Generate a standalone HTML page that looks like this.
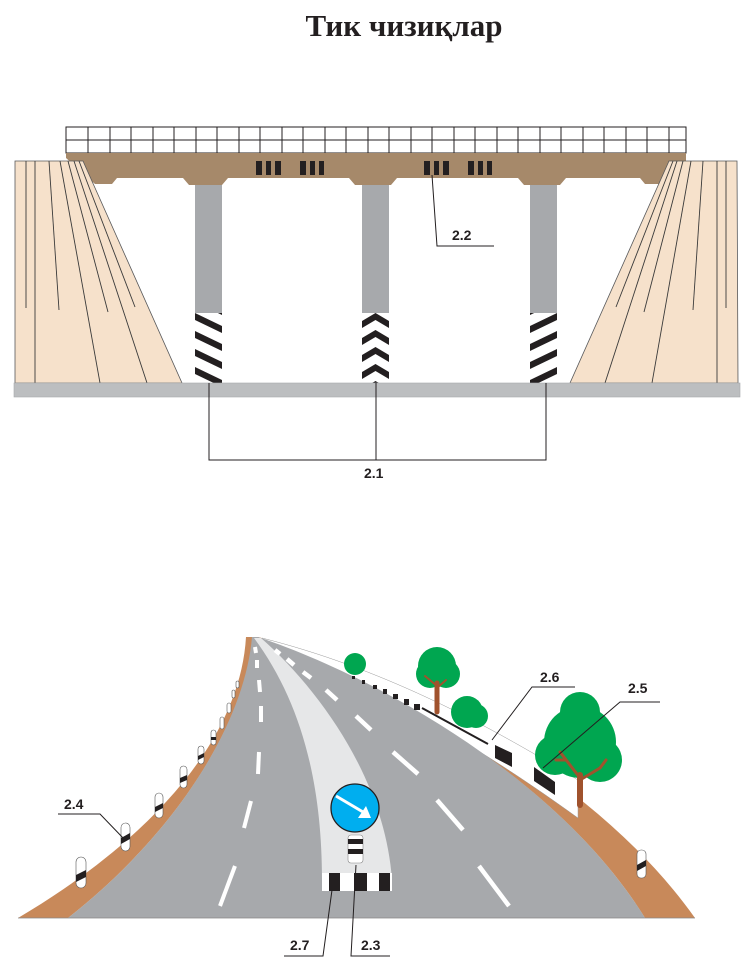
<!DOCTYPE html>
<html><head><meta charset="utf-8"><style>
html,body{margin:0;padding:0;background:#fff;}
svg{display:block;}
</style></head><body>
<svg width="755" height="967" viewBox="0 0 755 967" xmlns="http://www.w3.org/2000/svg">
<defs>
<pattern id="diagL" patternUnits="userSpaceOnUse" width="27" height="18" patternTransform="translate(195,313)">
<rect width="27" height="18" fill="#fff"/>
<polygon points="0,0 0,7 27,20 27,13" fill="#231f20"/>
<polygon points="0,-18 0,-11 27,2 27,-5" fill="#231f20"/>
<polygon points="0,18 0,25 27,38 27,31" fill="#231f20"/>
</pattern>
<pattern id="diagR" patternUnits="userSpaceOnUse" width="27" height="18" patternTransform="translate(530,313)">
<rect width="27" height="18" fill="#fff"/>
<polygon points="27,0 27,7 0,20 0,13" fill="#231f20"/>
<polygon points="27,-18 27,-11 0,2 0,-5" fill="#231f20"/>
<polygon points="27,18 27,25 0,38 0,31" fill="#231f20"/>
</pattern>
<pattern id="chev" patternUnits="userSpaceOnUse" width="27" height="17" patternTransform="translate(362,313)">
<rect width="27" height="17" fill="#fff"/>
<polygon points="0,8 13.5,0 27,8 27,15 13.5,7 0,15" fill="#231f20"/>
</pattern>
</defs>

<text x="404" y="36" text-anchor="middle" font-family="Liberation Serif, serif" font-weight="bold" font-size="31" fill="#231f20">Тик чизиқлар</text>

<!-- deck grid -->
<rect x="66" y="127" width="620" height="26" fill="#fff" stroke="#231f20" stroke-width="1"/>
<line x1="66" y1="140" x2="686" y2="140" stroke="#231f20"/>
<g stroke="#231f20" stroke-width="1">
<line x1="88" y1="127" x2="88" y2="153"/><line x1="110" y1="127" x2="110" y2="153"/><line x1="131" y1="127" x2="131" y2="153"/><line x1="153" y1="127" x2="153" y2="153"/><line x1="174" y1="127" x2="174" y2="153"/><line x1="196" y1="127" x2="196" y2="153"/><line x1="217" y1="127" x2="217" y2="153"/><line x1="239" y1="127" x2="239" y2="153"/><line x1="260" y1="127" x2="260" y2="153"/><line x1="282" y1="127" x2="282" y2="153"/><line x1="303" y1="127" x2="303" y2="153"/><line x1="325" y1="127" x2="325" y2="153"/><line x1="346" y1="127" x2="346" y2="153"/><line x1="368" y1="127" x2="368" y2="153"/><line x1="389" y1="127" x2="389" y2="153"/><line x1="411" y1="127" x2="411" y2="153"/><line x1="432" y1="127" x2="432" y2="153"/><line x1="454" y1="127" x2="454" y2="153"/><line x1="475" y1="127" x2="475" y2="153"/><line x1="497" y1="127" x2="497" y2="153"/><line x1="518" y1="127" x2="518" y2="153"/><line x1="540" y1="127" x2="540" y2="153"/><line x1="561" y1="127" x2="561" y2="153"/><line x1="583" y1="127" x2="583" y2="153"/><line x1="604" y1="127" x2="604" y2="153"/><line x1="626" y1="127" x2="626" y2="153"/><line x1="647" y1="127" x2="647" y2="153"/><line x1="669" y1="127" x2="669" y2="153"/>
</g>

<!-- beam -->
<polygon fill="#a6896a" points="66,153 686,153 686,161 670,184 645,184 640,178 566,178 560,185 524,185 518,178 397,178 391,185 355,185 349,178 228,178 222,185 189,185 183,178 117,178 112,184 95,184 66,158"/>

<!-- stripe blocks -->
<g fill="#231f20">
<rect x="256" y="161" width="6" height="14"/><rect x="266" y="161" width="5" height="14"/><rect x="275" y="161" width="6" height="14"/>
<rect x="300" y="161" width="6" height="14"/><rect x="310" y="161" width="5" height="14"/><rect x="319" y="161" width="5" height="14"/>
<rect x="424" y="161" width="6" height="14"/><rect x="434" y="161" width="5" height="14"/><rect x="443" y="161" width="6" height="14"/>
<rect x="468" y="161" width="6" height="14"/><rect x="478" y="161" width="5" height="14"/><rect x="487" y="161" width="5" height="14"/>
</g>

<!-- abutments -->
<polygon points="15,161 83,161 182,383 15,383" fill="#f6e1cb" stroke="#58595b" stroke-width="0.8"/>
<g stroke="#3a3a3a" stroke-width="0.9">
<line x1="26" y1="161" x2="26" y2="308"/><line x1="35" y1="161" x2="35" y2="383"/><line x1="49" y1="161" x2="59" y2="310"/>
<line x1="60" y1="161" x2="100" y2="383"/><line x1="68" y1="161" x2="108" y2="312"/><line x1="74" y1="161" x2="147" y2="383"/><line x1="79" y1="161" x2="135" y2="307"/>
</g>
<polygon points="669,161 737,161 738,383 570,383" fill="#f6e1cb" stroke="#58595b" stroke-width="0.8"/>
<g stroke="#3a3a3a" stroke-width="0.9">
<line x1="726" y1="161" x2="726" y2="308"/><line x1="717" y1="161" x2="717" y2="383"/><line x1="703" y1="161" x2="693" y2="310"/>
<line x1="691" y1="161" x2="652" y2="383"/><line x1="683" y1="161" x2="644" y2="312"/><line x1="677" y1="161" x2="605" y2="383"/><line x1="673" y1="161" x2="616" y2="307"/>
</g>

<!-- piers -->
<rect x="195" y="185" width="27" height="128" fill="#a7a9ac"/>
<rect x="362" y="185" width="27" height="128" fill="#a7a9ac"/>
<rect x="530" y="185" width="27" height="128" fill="#a7a9ac"/>
<rect x="195" y="313" width="27" height="70" fill="url(#diagL)"/>
<rect x="362" y="313" width="27" height="70" fill="url(#chev)"/>
<rect x="530" y="313" width="27" height="70" fill="url(#diagR)"/>

<!-- ground -->
<rect x="14" y="383" width="726" height="14" fill="#bcbec0" stroke="#a7a9ac" stroke-width="0.6"/>

<!-- leaders top -->
<g stroke="#231f20" stroke-width="1" fill="none">
<polyline points="209,383 209,460 546,460 546,383"/>
<line x1="376" y1="383" x2="376" y2="460"/>
<polyline points="432,175 437,246 494,246"/>
</g>
<g font-family="Liberation Sans, sans-serif" font-weight="bold" font-size="14" fill="#231f20">
<text x="364" y="478">2.1</text>
<text x="452" y="240">2.2</text>
</g>

<!-- ROAD -->
<!-- right brown -->
<path d="M258,637 C390,672 590,770 695,918 L645,918 C560,780 380,678 256,641 Z" fill="#c8895a"/>
<!-- white guard band -->
<path d="M262,638 C380,668 480,720 578,780 L578,818 C470,740 380,690 262,643 Z" fill="#fff" stroke="#999" stroke-width="0.5"/>
<!-- left brown -->
<path d="M246,637 C240,740 150,840 18,918 L68,918 C180,830 245,720 253,637 Z" fill="#c8895a"/>
<!-- road -->
<path d="M252,637 L258,637 C380,678 560,780 645,918 L68,918 C180,830 245,720 252,637 Z" fill="#a7a9ac"/>
<line x1="18" y1="918" x2="695" y2="918" stroke="#888" stroke-width="0.8"/>
<!-- island -->
<path d="M254,638 C300,700 322,780 322,880 L392,880 C385,780 320,690 261,638 Z" fill="#e6e7e8"/>
<rect x="322" y="873" width="70" height="18" fill="#fff"/>
<g fill="#231f20"><rect x="329" y="873" width="11" height="18"/><rect x="354" y="873" width="13" height="18"/><rect x="379" y="873" width="11" height="18"/></g>

<!-- dashes left lane -->
<g stroke="#fff" stroke-width="4" stroke-linecap="butt">
<line x1="255" y1="647" x2="256" y2="653"/><line x1="257" y1="660" x2="257" y2="668"/><line x1="259" y1="680" x2="260" y2="692"/><line x1="261" y1="706" x2="261" y2="722"/><line x1="259" y1="752" x2="258" y2="774"/><line x1="251" y1="801" x2="244" y2="828"/><line x1="235" y1="866" x2="220" y2="906"/>
</g>
<g stroke="#fff" stroke-width="4.5">
<line x1="275" y1="650" x2="280" y2="654"/><line x1="287" y1="659" x2="294" y2="665"/><line x1="303" y1="672" x2="311" y2="678"/><line x1="326" y1="690" x2="337" y2="700"/><line x1="356" y1="716" x2="371" y2="730"/><line x1="393" y1="752" x2="418" y2="774"/><line x1="437" y1="800" x2="463" y2="830"/><line x1="479" y1="866" x2="509" y2="906"/>
</g>

<!-- guard rail blocks -->
<g fill="#231f20">
<rect x="352" y="676" width="3" height="3"/><rect x="362" y="680" width="3" height="4"/><rect x="373" y="685" width="4" height="4"/><rect x="383" y="689" width="4" height="5"/><rect x="393" y="694" width="5" height="5"/><rect x="404" y="699" width="5" height="6"/><rect x="414" y="704" width="6" height="6"/>
<polygon points="495,745 512,753 512,767 495,758"/>
<polygon points="534,767 555,782 555,795 534,781"/>
</g>
<line x1="422" y1="708" x2="488" y2="744" stroke="#231f20" stroke-width="2"/>

<!-- trees -->
<g fill="#00a650">
<circle cx="355" cy="664" r="11"/>
<circle cx="437" cy="666" r="19"/><circle cx="430" cy="674" r="14"/><circle cx="446" cy="674" r="14"/>
<circle cx="467" cy="712" r="16"/><circle cx="476" cy="716" r="12"/>
<circle cx="580" cy="742" r="36"/><circle cx="555" cy="755" r="20"/><circle cx="600" cy="760" r="22"/><circle cx="580" cy="712" r="20"/>
</g>
<g stroke="#a0522d" fill="none" stroke-linecap="round">
<line x1="437" y1="683" x2="437" y2="712" stroke-width="5"/><path d="M437,686 L425,676 M437,688 L446,680" stroke-width="2"/>
<line x1="580" y1="775" x2="580" y2="805" stroke-width="6"/>
<path d="M580,778 L560,752 M580,780 L600,768 M565,760 L556,760 M600,768 L606,760" stroke-width="3"/>
</g>

<!-- right post -->
<rect x="637" y="850" width="9" height="28" rx="4" fill="#fff" stroke="#555" stroke-width="0.6"/>
<polygon points="637,865 646,860 646,866 637,871" fill="#231f20"/>

<!-- left posts -->
<g fill="#fff" stroke="#555" stroke-width="0.6">
<rect x="76" y="857" width="10" height="31" rx="5"/>
<rect x="121" y="823" width="9" height="28" rx="4.5"/>
<rect x="155" y="793" width="8" height="25" rx="4"/>
<rect x="180" y="766" width="7" height="22" rx="3.5"/>
<rect x="198" y="746" width="6" height="18" rx="3"/>
<rect x="211" y="730" width="5" height="15" rx="2.5"/>
<rect x="220" y="717" width="4" height="12" rx="2"/>
<rect x="227" y="703" width="4" height="10" rx="2"/>
<rect x="232" y="690" width="3" height="8" rx="1.5"/>
<rect x="236" y="681" width="3" height="7" rx="1.5"/>
</g>
<g fill="#231f20">
<polygon points="76,875 86,870 86,877 76,882"/>
<polygon points="121,838 130,833 130,839 121,844"/>
<polygon points="155,807 163,803 163,808 155,812"/>
<polygon points="180,778 187,775 187,780 180,783"/>
<polygon points="198,756 204,753 204,757 198,760"/>
<rect x="211" y="737" width="5" height="3"/>
</g>

<!-- sign -->
<rect x="348" y="835" width="15" height="28" rx="3" fill="#fff" stroke="#888" stroke-width="0.6"/>
<rect x="348" y="839" width="15" height="5" fill="#231f20"/>
<rect x="348" y="849" width="15" height="5" fill="#231f20"/>
<circle cx="355" cy="808" r="24" fill="#00aeef" stroke="#231f20" stroke-width="1.3"/>
<line x1="336" y1="796" x2="363" y2="812" stroke="#fff" stroke-width="3"/>
<polygon points="371,818 358,818 366,806" fill="#fff"/>

<!-- leaders bottom -->
<g stroke="#231f20" stroke-width="1" fill="none">
<polyline points="58,814 100,814 125,840"/>
<polyline points="332,890 323,956 284,956"/>
<polyline points="356,865 351,956 390,956"/>
<polyline points="492,740 532,687 575,687"/>
<polyline points="543,768 620,702 660,702"/>
</g>
<g font-family="Liberation Sans, sans-serif" font-weight="bold" font-size="14" fill="#231f20">
<text x="64" y="809">2.4</text>
<text x="290" y="950">2.7</text>
<text x="361" y="950">2.3</text>
<text x="540" y="682">2.6</text>
<text x="628" y="693">2.5</text>
</g>
</svg>
</body></html>
